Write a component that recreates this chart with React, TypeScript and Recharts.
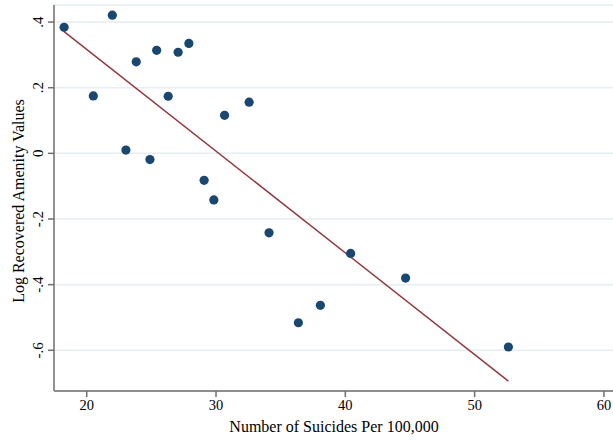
import { ScatterChart, Scatter, XAxis, YAxis, CartesianGrid, ReferenceLine, Label } from "recharts";

const suicides = [18.25, 21.98, 20.51, 23.83, 25.41, 27.07, 27.9, 26.3, 23.03, 24.89, 30.66, 32.56, 29.08, 29.83, 34.1, 40.41, 44.66, 38.07, 36.37, 52.61];
const amenity = [0.384, 0.421, 0.175, 0.279, 0.314, 0.308, 0.335, 0.174, 0.01, -0.019, 0.116, 0.156, -0.082, -0.142, -0.242, -0.305, -0.38, -0.463, -0.516, -0.59];

// fitted line endpoints
const fitX = [18.25, 52.61];
const fitY = [0.371, -0.694];

const xTicks = [20, 30, 40, 50, 60];
const yTicks = [-0.6, -0.4, -0.2, 0, 0.2, 0.4];
const yTickLabels = ["-.6", "-.4", "-.2", "0", ".2", ".4"];

const FONT = '"Liberation Serif", "Times New Roman", serif';
const NAVY = "#1a476f";
const MAROON = "#90353b";
const AXIS = "#6e6e6e";

const points = suicides.map((x, i) => ({ x, y: amenity[i] }));

const XTick = (props: any) => {
    const { x, y, payload } = props;
    return (
        <text x={x} y={y + 11} textAnchor="middle" fontFamily={FONT} fontSize={14.5} fill="#000">
            {payload.value}
        </text>
    );
};

const YTick = (props: any) => {
    const { x, y, payload } = props;
    const cx = x - 8;
    const idx = yTicks.indexOf(payload.value);
    return (
        <text
            x={cx}
            y={y}
            transform={`rotate(-90 ${cx} ${y})`}
            textAnchor="middle"
            dominantBaseline="central"
            fontFamily={FONT}
            fontSize={15}
            fill="#000"
        >
            {idx >= 0 ? yTickLabels[idx] : payload.value}
        </text>
    );
};

const Dot = (props: any) => <circle cx={props.cx} cy={props.cy} r={4.6} fill={NAVY} />;

export default function App() {
    return (
        <div style={{ width: 613, height: 440, background: "#fff", fontFamily: FONT }}>
            <style>{"body{margin:0}"}</style>
            <ScatterChart width={613} height={440} margin={{ top: 5, right: 0, bottom: 0, left: 0 }}>
                <CartesianGrid vertical={false} stroke="#e6eef1" strokeWidth={1.5} />
                <XAxis
                    dataKey="x"
                    type="number"
                    domain={[17.47, 60.7]}
                    ticks={xTicks}
                    allowDataOverflow
                    height={49}
                    tickSize={6}
                    tickMargin={2}
                    stroke={AXIS}
                    strokeWidth={1.5}
                    tick={<XTick />}
                >
                    <Label
                        content={() => (
                            <text x={334} y={432} textAnchor="middle" fontFamily={FONT} fontSize={16} fill="#000">
                                Number of Suicides Per 100,000
                            </text>
                        )}
                    />
                </XAxis>
                <YAxis
                    dataKey="y"
                    type="number"
                    domain={[-0.724, 0.452]}
                    ticks={yTicks}
                    allowDataOverflow
                    width={54}
                    tickSize={6}
                    stroke={AXIS}
                    strokeWidth={1.5}
                    tick={<YTick />}
                >
                    <Label
                        content={() => (
                            <text
                                x={18}
                                y={201}
                                transform="rotate(-90 18 201)"
                                textAnchor="middle"
                                dominantBaseline="central"
                                fontFamily={FONT}
                                fontSize={16}
                                fill="#000"
                            >
                                Log Recovered Amenity Values
                            </text>
                        )}
                    />
                </YAxis>
                <ReferenceLine
                    segment={[
                        { x: fitX[0], y: fitY[0] },
                        { x: fitX[1], y: fitY[1] },
                    ]}
                    stroke={MAROON}
                    strokeWidth={1.4}
                    ifOverflow="visible"
                />
                <Scatter data={points} shape={<Dot />} isAnimationActive={false} />
            </ScatterChart>
        </div>
    );
}
